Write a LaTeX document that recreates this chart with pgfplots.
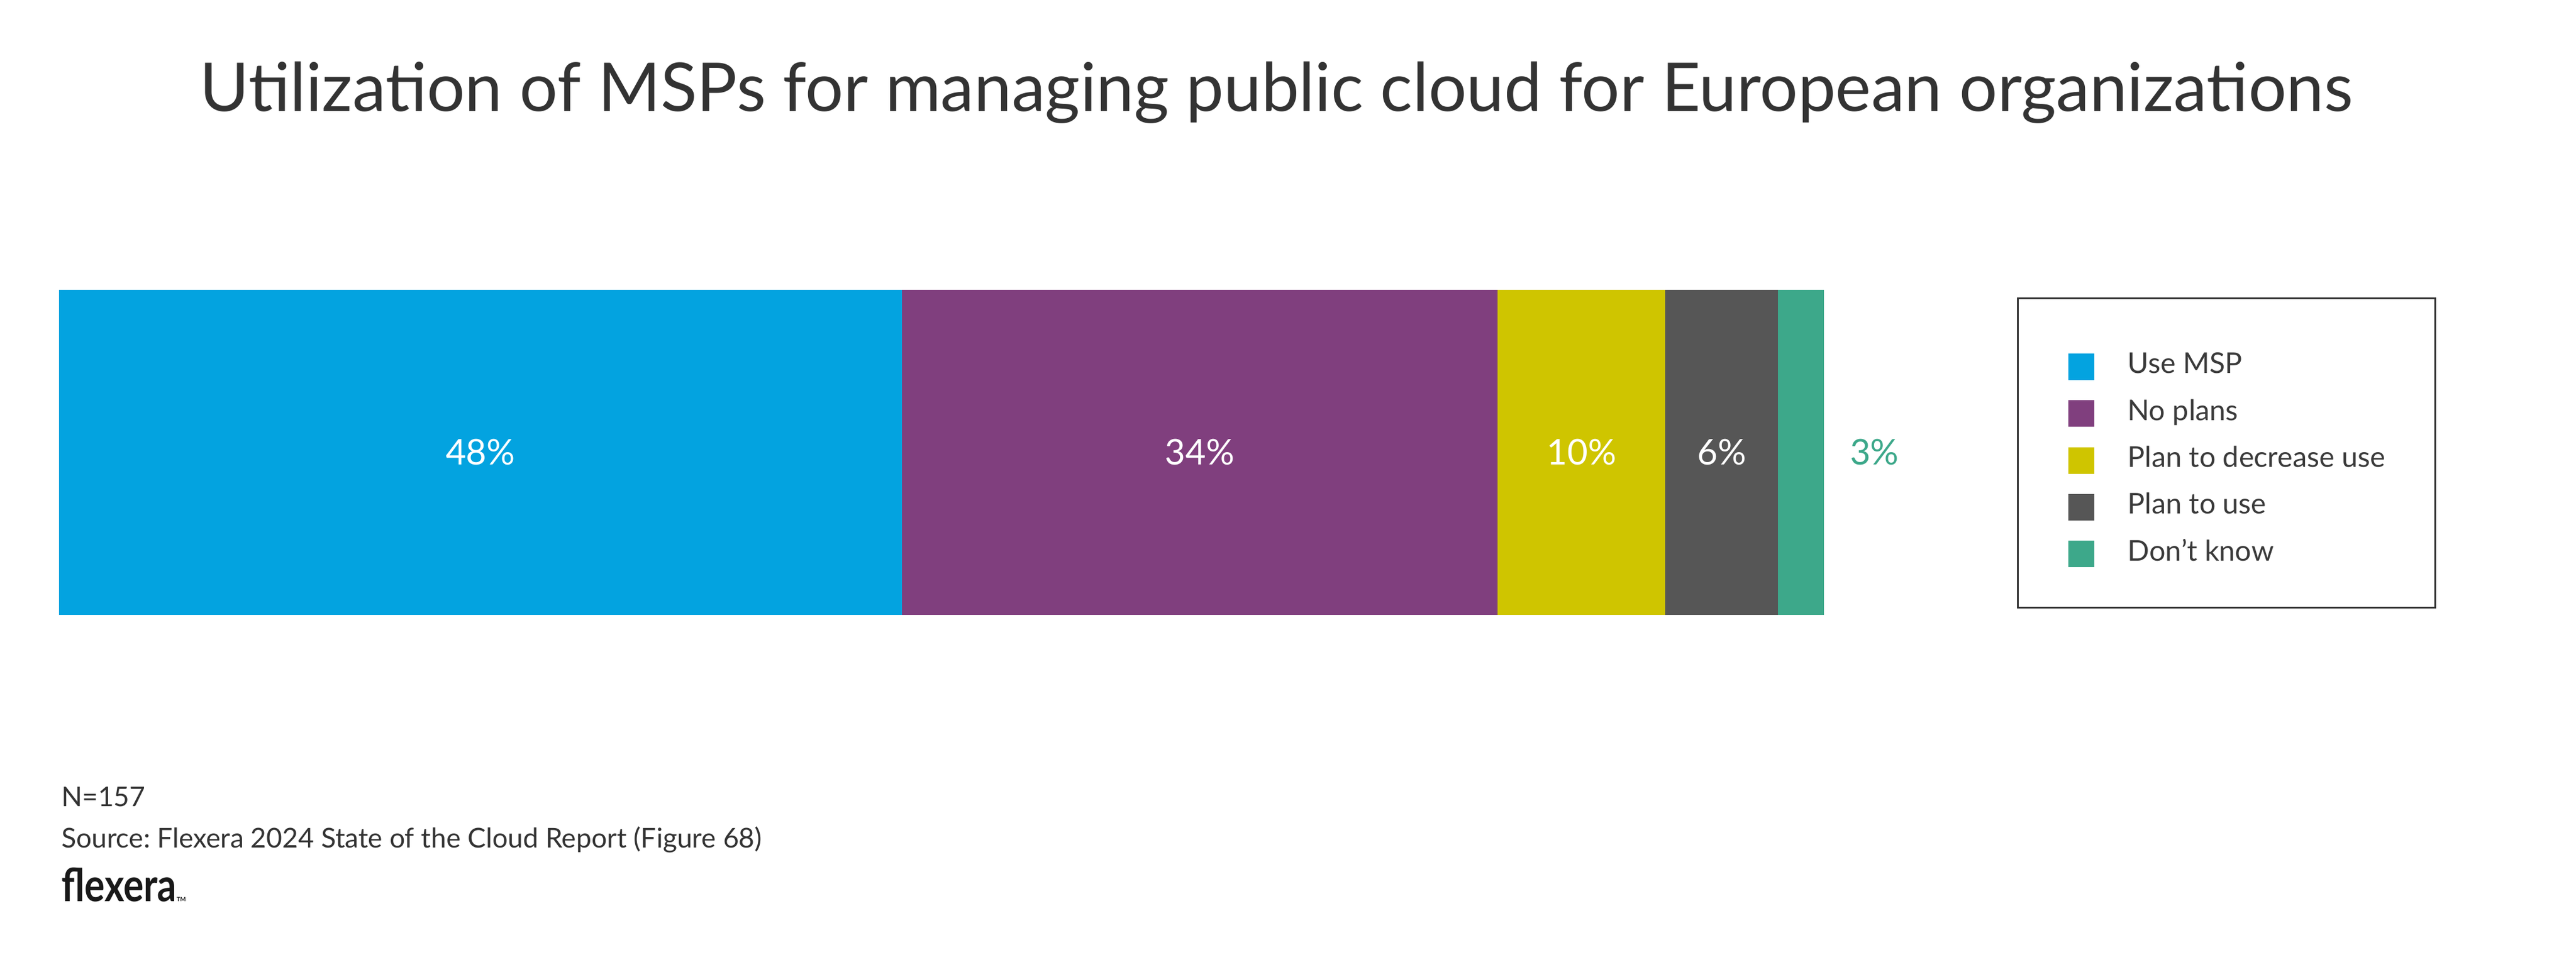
\documentclass[border=0pt]{standalone}
\usepackage{fontspec}
\setmainfont{Lato}
\usepackage{pgfplots}
\pgfplotsset{compat=1.18}
\definecolor{cBlue}{HTML}{03A3E0}
\definecolor{cPurple}{HTML}{803F7E}
\definecolor{cYellow}{HTML}{CFC500}
\definecolor{cGray}{HTML}{565656}
\definecolor{cTeal}{HTML}{3DA88A}
\definecolor{cText}{HTML}{333333}
\definecolor{cLeg}{HTML}{3A3A3A}
\pgfplotsset{baraxis/.style={at={(20pt,117.6pt)}, anchor=south west,
  scale only axis, width=598pt, height=110.2pt,
  xmin=0, xmax=100.1, ymin=-0.5, ymax=0.5,
  enlargelimits=false, hide axis, clip=false}}
\frenchspacing
\begin{document}
\begin{tikzpicture}
\useasboundingbox (0,0) rectangle (872.8pt,326pt);
\node[anchor=base, text=cText, font=\fontsize{22.8}{25}\selectfont, inner sep=0pt] at (432.4pt,288.2pt) {Utilization of MSPs for managing public cloud for European organizations};
\begin{axis}[
  baraxis,
  xbar stacked, bar width=110.2pt,
  legend cell align=left,
  legend image code/.code={\fill[#1] (0pt,-4.5pt) rectangle (8.8pt,4.5pt); \path (0pt,9.5pt);},
  legend style={at={(1.1094,0.9764)}, anchor=north west, draw=cText, line width=0.6pt,
    inner xsep=17pt, inner ysep=13.7pt, row sep=1.86pt, column sep=11.4pt,
    font=\fontsize{9.7}{11}\selectfont, text=cLeg,
    nodes={inner sep=0pt, text height=6.8pt, text depth=2.2pt}, cells={anchor=west}},
]
\addplot[fill=cBlue, draw=none] coordinates {(47.8,0)};
\addlegendentry{Use MSP}
\addplot[fill=cPurple, draw=none] coordinates {(33.8,0)};
\addlegendentry{No plans}
\addplot[fill=cYellow, draw=none] coordinates {(9.5,0)};
\addlegendentry{Plan to decrease use}
\addplot[fill=cGray, draw=none] coordinates {(6.4,0)};
\addlegendentry{Plan to use}
\addplot[fill=cTeal, draw=none] coordinates {(2.6,0)};
\addlegendentry{Don't know}
\end{axis}
% value labels: centres of the segments (cumulative positions of the data above)
\begin{axis}[baraxis]
\addplot[only marks, mark=*, mark size=0pt, mark options={draw=none, fill=none},
  point meta=explicit symbolic, nodes near coords,
  every node near coord/.style={anchor=center, inner sep=0pt, text=white, font=\fontsize{12}{14}\selectfont}]
  coordinates {(23.9,0) [48\%] (64.7,0) [34\%] (86.35,0) [10\%] (94.3,0) [6\%]};
\addplot[only marks, mark=*, mark size=0pt, mark options={draw=none, fill=none},
  point meta=explicit symbolic, nodes near coords,
  every node near coord/.style={anchor=west, inner sep=0pt, text=cTeal, font=\fontsize{12}{14}\selectfont}]
  coordinates {(101.54,0) [3\%]};
\end{axis}
\node[anchor=base west, inner sep=0pt, text=cText, font=\fontsize{9.25}{11}\selectfont] at (20.6pt,52.6pt) {N=157};
\node[anchor=base west, inner sep=0pt, text=cText, font=\fontsize{9.25}{11}\selectfont] at (20.6pt,38.6pt) {Source: Flexera 2024 State of the Cloud Report (Figure 68)};
\node[anchor=base west, inner sep=0pt, text=black!90, font=\bfseries\fontsize{13.5}{15}\selectfont] at (20.6pt,20.4pt) {\scalebox{0.95}[1.15]{flexera}{\fontsize{2}{2}\selectfont TM}};
\end{tikzpicture}
\end{document}
